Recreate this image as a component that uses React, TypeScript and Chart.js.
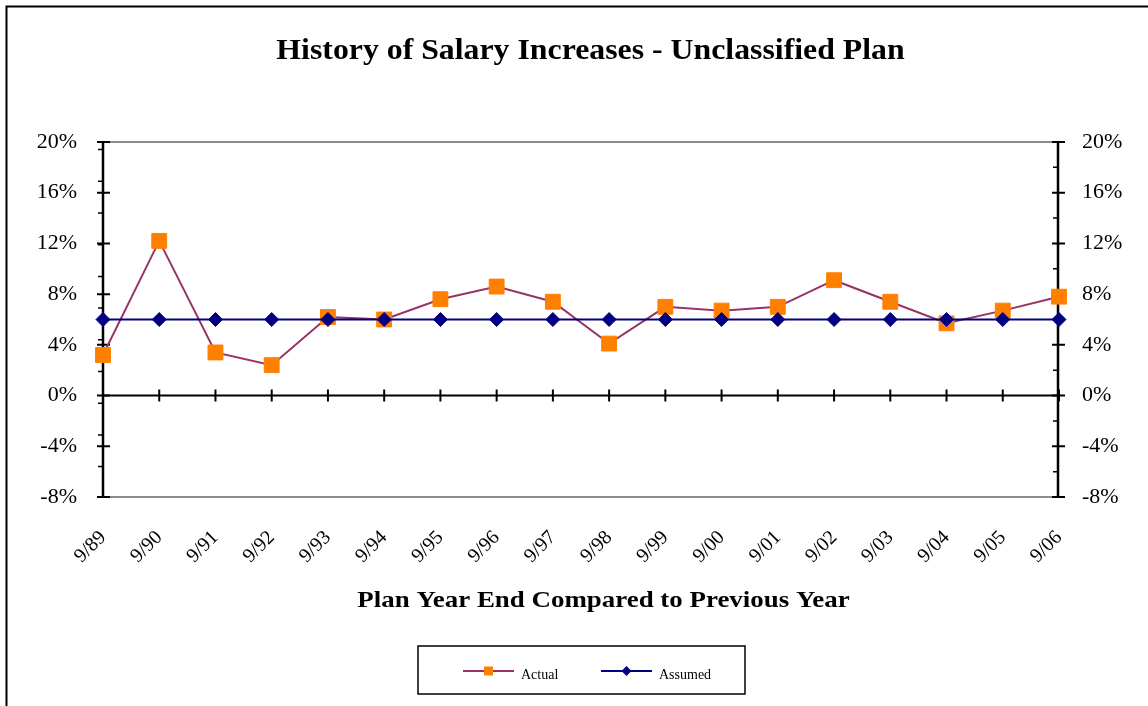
import React, { useEffect, useRef } from "react";
import { Chart, registerables } from "chart.js";

Chart.register(...registerables);

const categories = ["9/89", "9/90", "9/91", "9/92", "9/93", "9/94", "9/95", "9/96", "9/97", "9/98", "9/99", "9/00", "9/01", "9/02", "9/03", "9/04", "9/05", "9/06"];
const actualValues = [3.2, 12.2, 3.4, 2.4, 6.2, 6.0, 7.6, 8.6, 7.4, 4.1, 7.0, 6.7, 7.0, 9.1, 7.4, 5.7, 6.7, 7.8];
const assumedValues = [6.0, 6.0, 6.0, 6.0, 6.0, 6.0, 6.0, 6.0, 6.0, 6.0, 6.0, 6.0, 6.0, 6.0, 6.0, 6.0, 6.0, 6.0];
const seriesNames = ["Actual", "Assumed"];
const yMin = -8;
const yMax = 20;
const yStep = 4;
const leftMinorTicks = [19.4, 16.9, 14.4, 11.9, 9.4, 6.9, 4.4, 1.9, -0.6, -3.1, -5.6];
const rightMinorTicks = [18, 14, 10, 6, 2, -2, -6];
const chartTitle = "History of Salary Increases - Unclassified Plan";
const xAxisTitle = "Plan Year End Compared to Previous Year";

const SERIF = '"Liberation Serif", "Times New Roman", serif';

function stretchedText(ctx: any, text: string, cx: number, baseline: number, sx: number) {
  ctx.save();
  ctx.translate(cx, baseline);
  ctx.scale(sx, 1);
  ctx.textAlign = "center";
  ctx.textBaseline = "alphabetic";
  ctx.fillText(text, 0, 0);
  ctx.restore();
}

const decorPlugin = {
  id: "decor",
  beforeDatasetsDraw(chart: any) {
    const ctx = chart.ctx;
    const area = chart.chartArea;
    const x = chart.scales.x;
    const y = chart.scales.y;
    const y2 = chart.scales.y2;
    ctx.save();
    // gray plot-area top/bottom lines
    ctx.strokeStyle = "#8c8c8c";
    ctx.lineWidth = 2;
    ctx.beginPath();
    ctx.moveTo(area.left, y.getPixelForValue(yMax));
    ctx.lineTo(area.right, y.getPixelForValue(yMax));
    ctx.moveTo(area.left, y.getPixelForValue(yMin));
    ctx.lineTo(area.right, y.getPixelForValue(yMin));
    ctx.stroke();

    ctx.strokeStyle = "#000";
    // left axis
    const lx = area.left;
    ctx.lineWidth = 2.5;
    ctx.beginPath();
    ctx.moveTo(lx, y.getPixelForValue(yMax));
    ctx.lineTo(lx, y.getPixelForValue(yMin));
    ctx.stroke();
    ctx.lineWidth = 2;
    ctx.beginPath();
    for (let v = yMin; v <= yMax; v += yStep) {
      const py = y.getPixelForValue(v);
      ctx.moveTo(lx - 6, py);
      ctx.lineTo(lx + 7, py);
    }
    ctx.stroke();
    ctx.lineWidth = 1.5;
    ctx.beginPath();
    for (const v of leftMinorTicks) {
      const py = y.getPixelForValue(v);
      ctx.moveTo(lx - 5, py);
      ctx.lineTo(lx, py);
    }
    ctx.stroke();

    // right axis
    const rx = area.right - 1;
    ctx.lineWidth = 2.5;
    ctx.beginPath();
    ctx.moveTo(rx, y2.getPixelForValue(yMax));
    ctx.lineTo(rx, y2.getPixelForValue(yMin));
    ctx.stroke();
    ctx.lineWidth = 2;
    ctx.beginPath();
    for (let v = yMin; v <= yMax; v += yStep) {
      const py = y2.getPixelForValue(v);
      ctx.moveTo(rx - 6, py);
      ctx.lineTo(rx + 7, py);
    }
    ctx.stroke();
    ctx.lineWidth = 1.5;
    ctx.beginPath();
    for (const v of rightMinorTicks) {
      const py = y2.getPixelForValue(v);
      ctx.moveTo(rx - 5, py);
      ctx.lineTo(rx, py);
    }
    ctx.stroke();

    // zero line with category ticks
    const zy = y.getPixelForValue(0);
    ctx.lineWidth = 2;
    ctx.beginPath();
    ctx.moveTo(area.left, zy);
    ctx.lineTo(area.right, zy);
    ctx.stroke();
    ctx.beginPath();
    for (let i = 0; i < categories.length; i++) {
      const px = x.getPixelForValue(i);
      ctx.moveTo(px, zy - 6);
      ctx.lineTo(px, zy + 6);
    }
    ctx.stroke();
    ctx.restore();
  },
  afterDraw(chart: any) {
    const ctx = chart.ctx;
    ctx.save();
    // outer frame
    ctx.strokeStyle = "#000";
    ctx.lineWidth = 2;
    ctx.strokeRect(6.5, 6.5, 1200, 800);

    // title
    ctx.fillStyle = "#000";
    ctx.font = `bold 30px ${SERIF}`;
    stretchedText(ctx, chartTitle, 590.5, 59, 1.06);

    // x axis title
    ctx.font = `bold 23px ${SERIF}`;
    stretchedText(ctx, xAxisTitle, 603.5, 607, 1.17);

    // legend
    ctx.lineWidth = 1.5;
    ctx.strokeRect(418, 646, 327, 48);
    const items = chart.data.datasets;
    const starts = [463, 601];
    ctx.font = `14px ${SERIF}`;
    ctx.textAlign = "left";
    ctx.textBaseline = "alphabetic";
    items.forEach((ds: any, i: number) => {
      const sx = starts[i];
      const ly = 671;
      ctx.strokeStyle = ds.borderColor;
      ctx.lineWidth = 2;
      ctx.beginPath();
      ctx.moveTo(sx, ly);
      ctx.lineTo(sx + 51, ly);
      ctx.stroke();
      const mx = sx + 25.5;
      ctx.fillStyle = ds.pointBackgroundColor;
      ctx.beginPath();
      if (ds.pointStyle === "rect") {
        ctx.rect(mx - 4.5, ly - 4.5, 9, 9);
      } else {
        ctx.moveTo(mx, ly - 5);
        ctx.lineTo(mx + 5, ly);
        ctx.lineTo(mx, ly + 5);
        ctx.lineTo(mx - 5, ly);
        ctx.closePath();
      }
      ctx.fill();
      ctx.fillStyle = "#000";
      ctx.fillText(ds.label, sx + 58, 678.5);
    });
    ctx.restore();
  },
};

export default function App() {
  const ref = useRef<HTMLCanvasElement | null>(null);
  useEffect(() => {
    if (!ref.current) return;
    const yTickCfg = {
      stepSize: yStep,
      color: "#000",
      font: { family: SERIF, size: 22 },
      callback: (v: any) => `${v}%`,
    };
    const chart = new Chart(ref.current, {
      type: "line",
      data: {
        labels: categories,
        datasets: [
          {
            label: seriesNames[0],
            data: actualValues,
            borderColor: "#993366",
            borderWidth: 2,
            pointStyle: "rect",
            pointRadius: 10.5,
            pointBackgroundColor: "#FF8000",
            pointBorderColor: "#FF8000",
            pointBorderWidth: 1,
            tension: 0,
            order: 1,
            yAxisID: "y",
          },
          {
            label: seriesNames[1],
            data: assumedValues,
            borderColor: "#000080",
            borderWidth: 2,
            pointStyle: "rectRot",
            pointRadius: 7,
            pointBackgroundColor: "#000080",
            pointBorderColor: "#000080",
            pointBorderWidth: 1,
            tension: 0,
            order: 0,
            yAxisID: "y",
          },
        ],
      },
      options: {
        responsive: false,
        animation: false,
        devicePixelRatio: 1,
        layout: { padding: { top: 142, left: 0, right: 0, bottom: 0 } },
        plugins: {
          legend: { display: false },
          title: { display: false },
          tooltip: { enabled: false },
        },
        scales: {
          x: {
            type: "category",
            offset: false,
            grid: { display: false, drawTicks: false },
            border: { display: false },
            ticks: {
              autoSkip: false,
              maxRotation: 45,
              minRotation: 45,
              padding: 29,
              color: "#000",
              font: { family: SERIF, size: 20 },
            },
            afterFit: (s: any) => {
              s.height = 209;
            },
          },
          y: {
            position: "left",
            min: yMin,
            max: yMax,
            grid: { display: false, drawTicks: false },
            border: { display: false },
            ticks: { ...yTickCfg, padding: 26 },
            afterFit: (s: any) => {
              s.width = 103;
            },
          },
          y2: {
            position: "right",
            min: yMin,
            max: yMax,
            grid: { display: false, drawTicks: false },
            border: { display: false },
            ticks: { ...yTickCfg, padding: 23 },
            afterFit: (s: any) => {
              s.width = 89;
            },
          },
        },
      } as any,
      plugins: [decorPlugin],
    });
    return () => chart.destroy();
  }, []);
  return (
    <div style={{ position: "fixed", left: 0, top: 0, width: 1148, height: 706, background: "#fff" }}>
      <canvas ref={ref} width={1148} height={706} style={{ display: "block" }} />
    </div>
  );
}
